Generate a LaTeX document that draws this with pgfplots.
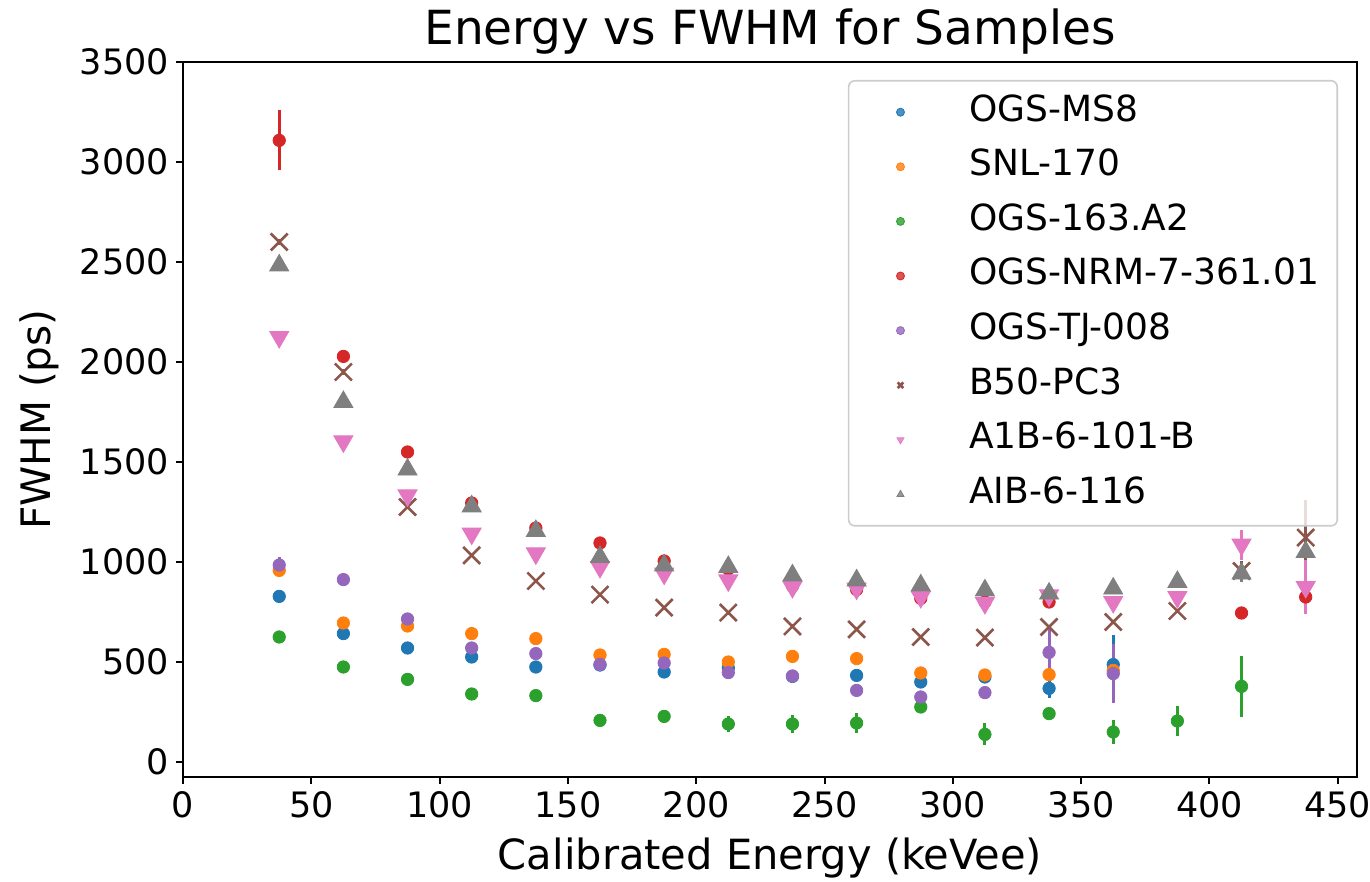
\documentclass[border=0pt]{standalone}
\usepackage{fontspec}
\setmainfont{DejaVu Sans}
\usepackage{pgfplots}
\pgfplotsset{compat=1.18}
\usetikzlibrary{calc}
\definecolor{tblue}{HTML}{1F77B4}
\definecolor{torange}{HTML}{FF7F0E}
\definecolor{tgreen}{HTML}{2CA02C}
\definecolor{tred}{HTML}{D62728}
\definecolor{tpurple}{HTML}{9467BD}
\definecolor{tbrown}{HTML}{8C564B}
\definecolor{tpink}{HTML}{E377C2}
\definecolor{tgray}{HTML}{7F7F7F}

\pgfplotstableread{
x y e
37.5 828 10
62.5 642 10
87.5 570 10
112.5 525 10
137.5 475 10
162.5 485 10
187.5 450 10
212.5 470 10
237.5 428 10
262.5 433 10
287.5 400 10
312.5 425 15
337.5 368 50
362.5 487 147
}\msEight
\pgfplotstableread{
x y e
37.5 958 10
62.5 695 10
87.5 680 10
112.5 642 10
137.5 617 10
162.5 535 10
187.5 538 10
212.5 500 10
237.5 528 10
262.5 517 10
287.5 445 10
312.5 435 10
337.5 437 10
362.5 458 10
}\snl
\pgfplotstableread{
x y e
37.5 625 5
62.5 475 5
87.5 413 5
112.5 340 10
137.5 332 25
162.5 208 30
187.5 228 30
212.5 190 40
237.5 190 45
262.5 195 50
287.5 275 10
312.5 138 55
337.5 242 10
362.5 150 62
387.5 205 73
412.5 378 152
}\ogsA
\pgfplotstableread{
x y e
37.5 3108 150
62.5 2028 15
87.5 1550 10
112.5 1295 10
137.5 1170 10
162.5 1095 10
187.5 1005 10
212.5 965 10
237.5 880 10
262.5 862 10
287.5 818 10
312.5 800 10
337.5 800 10
412.5 745 15
437.5 825 20
}\nrm
\pgfplotstableread{
x y e
37.5 985 40
62.5 912 10
87.5 715 10
112.5 570 10
137.5 542 10
162.5 488 10
187.5 495 10
212.5 447 10
237.5 430 10
262.5 358 10
287.5 325 10
312.5 347 30
337.5 548 125
362.5 442 148
}\tj
\pgfplotstableread{
x y e
37.5 2600 15
62.5 1950 15
87.5 1275 10
112.5 1033 10
137.5 905 10
162.5 837 10
187.5 772 10
212.5 747 10
237.5 678 10
262.5 663 10
287.5 625 10
312.5 622 10
337.5 675 10
362.5 700 10
387.5 755 10
412.5 955 50
437.5 1122 187
}\bfifty
\pgfplotstableread{
x y e
37.5 2125 10
62.5 1603 10
87.5 1333 10
112.5 1142 10
137.5 1043 10
162.5 975 10
187.5 942 10
212.5 908 10
237.5 875 10
262.5 867 10
287.5 825 10
312.5 795 10
337.5 833 10
362.5 800 10
387.5 825 10
412.5 1087 75
437.5 875 137
}\aonea
\pgfplotstableread{
x y e
37.5 2483 30
62.5 1800 10
87.5 1462 10
112.5 1278 10
137.5 1155 10
162.5 1025 10
187.5 983 10
212.5 975 10
237.5 933 10
262.5 908 10
287.5 883 10
312.5 858 10
337.5 842 10
362.5 867 10
387.5 900 10
412.5 942 40
437.5 1050 10
}\aibsix

\begin{document}
\begin{tikzpicture}
\begin{axis}[
  scale only axis, width=587pt, height=357.5pt,
  xmin=0, xmax=457.5, ymin=-75, ymax=3500,
  xtick={0,50,...,450}, ytick={0,500,...,3500},
  xtick pos=left, ytick pos=left,
  tick align=outside, major tick length=3.5pt,
  every tick/.style={black, line width=1pt},
  axis line style={line width=1.2pt},
  tick label style={font=\fontsize{17.5}{20}\selectfont},
  /pgf/number format/assume math mode=true,
  /pgf/number format/set thousands separator={},
  every axis title/.style={at={(axis description cs:0.5,1)}, anchor=base, yshift=8.5pt, font=\fontsize{23.5}{27}\selectfont},
  title={Energy vs FWHM for Samples},
  every axis x label/.style={at={(axis description cs:0.5,0)}, anchor=base, yshift=-46.5pt, font=\fontsize{20.8}{24}\selectfont},
  every axis y label/.style={at={(axis description cs:0,0.5)}, xshift=-66pt, rotate=90, anchor=base, font=\fontsize{20.3}{24}\selectfont},
  xlabel={Calibrated Energy (keVee)},
  ylabel={FWHM (ps)},
  error bars/y dir=both, error bars/y explicit,
  error bars/error bar style={line width=1.5pt},
  error bars/error mark=none,
  legend style={at={(1,1)}, xshift=-9.5pt, yshift=-9pt, anchor=north east,
    draw=black!20, line width=0.8pt, rounded corners=3pt, fill=white, fill opacity=0.8, text opacity=1,
    font=\fontsize{18}{20}\selectfont, inner xsep=9pt, inner ysep=7.2pt, row sep=10.3pt,
    nodes={inner sep=0pt, text height=13pt, text depth=4pt}},
  legend cell align=left,
  legend image code/.code={\path (-16.5pt,0pt) (34pt,0pt); \draw[#1, mark size=2pt, line width=0.4pt] plot coordinates {(0pt,0pt)};},
]
\addplot[only marks, mark=*, mark size=3.1pt, color=tblue, mark options={draw=tblue, fill=tblue}, error bars/error bar style={tblue}] table[x=x, y=y, y error=e] {\msEight};
\addlegendentry{OGS-MS8}
\addplot[only marks, mark=*, mark size=3.1pt, color=torange, mark options={draw=torange, fill=torange}, error bars/error bar style={torange}] table[x=x, y=y, y error=e] {\snl};
\addlegendentry{SNL-170}
\addplot[only marks, mark=*, mark size=3.1pt, color=tgreen, mark options={draw=tgreen, fill=tgreen}, error bars/error bar style={tgreen}] table[x=x, y=y, y error=e] {\ogsA};
\addlegendentry{OGS-163.A2}
\addplot[only marks, mark=*, mark size=3.1pt, color=tred, mark options={draw=tred, fill=tred}, error bars/error bar style={tred}] table[x=x, y=y, y error=e] {\nrm};
\addlegendentry{OGS-NRM-7-361.01}
\addplot[only marks, mark=*, mark size=3.1pt, color=tpurple, mark options={draw=tpurple, fill=tpurple}, error bars/error bar style={tpurple}] table[x=x, y=y, y error=e] {\tj};
\addlegendentry{OGS-TJ-008}
\addplot[only marks, mark=x, mark size=6pt, color=tbrown, mark options={draw=tbrown, line width=1.3pt}, error bars/error bar style={tbrown}] table[x=x, y=y, y error=e] {\bfifty};
\addlegendentry{B50-PC3}
\addplot[only marks, mark=triangle*, mark size=5.5pt, color=tpink, mark options={draw=tpink, fill=tpink, rotate=180}, error bars/error bar style={tpink}] table[x=x, y=y, y error=e] {\aonea};
\addlegendentry{A1B-6-101-B}
\addplot[only marks, mark=triangle*, mark size=5.5pt, color=tgray, mark options={draw=tgray, fill=tgray}, error bars/error bar style={tgray}] table[x=x, y=y, y error=e] {\aibsix};
\addlegendentry{AIB-6-116}
\end{axis}
\pgfresetboundingbox
\path[use as bounding box] ($(current axis.south west)+(-91.5pt,-52.5pt)$) rectangle ($(current axis.north east)+(6.5pt,31pt)$);
\end{tikzpicture}
\end{document}
